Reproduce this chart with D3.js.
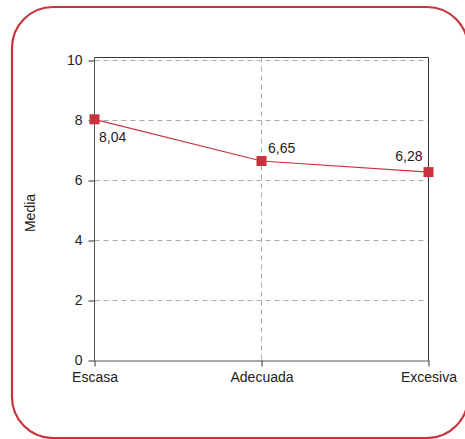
<!DOCTYPE html>
<html><head><meta charset="utf-8">
<script src="https://cdn.jsdelivr.net/npm/d3@7"></script>
<style>body{margin:0;background:#fff}svg{display:block}text{font-family:"Liberation Sans",Arial,sans-serif}</style>
</head><body>
<svg id="c" width="465" height="439"></svg>
<script>
const categories = ["Escasa", "Adecuada", "Excesiva"];
const values = [8.04, 6.65, 6.28];
const valueLabels = ["8,04", "6,65", "6,28"];
const yTicks = [0, 2, 4, 6, 8, 10];
const yTitle = "Media";

const svg = d3.select("#c");
const red = "#c8333d";
const L = 94.5, R = 428.5, T = 60.5, B = 360.5;
const FS = 14;

svg.append("rect").attr("x", 12).attr("y", 7).attr("width", 456).attr("height", 431)
  .attr("rx", 41).attr("ry", 41).attr("fill", "none").attr("stroke", red).attr("stroke-width", 2.2);

const x = d3.scalePoint().domain(categories).range([L, R]);
const y = d3.scaleLinear().domain([0, 10]).range([B, T]);

// gridlines
svg.append("g").selectAll("line").data(yTicks.filter(d => d > 0)).join("line")
  .attr("x1", L).attr("x2", R).attr("y1", d => y(d)).attr("y2", d => y(d))
  .attr("stroke", "#aaa").attr("stroke-dasharray", "5,4");
svg.append("line").attr("x1", x("Adecuada")).attr("x2", x("Adecuada")).attr("y1", T - 3).attr("y2", B)
  .attr("stroke", "#aaa").attr("stroke-dasharray", "5,4");

// frame top/right
svg.append("path").attr("d", `M${L},${T - 3}H${R}V${B}`).attr("fill", "none").attr("stroke", "#333");

const yAxis = svg.append("g").attr("transform", `translate(${L},0)`)
  .call(d3.axisLeft(y).tickValues(yTicks).tickSize(6).tickPadding(6).tickSizeOuter(0));
yAxis.select(".domain").attr("d", `M0,${T - 3}V${B}`).attr("stroke", "#555");
yAxis.selectAll("line").attr("stroke", "#333");
yAxis.selectAll("text").attr("font-size", FS).attr("fill", "#222").attr("font-family", '"Liberation Sans",Arial,sans-serif');

const xAxis = svg.append("g").attr("transform", `translate(0,${B})`)
  .call(d3.axisBottom(x).tickSize(6).tickPadding(6).tickSizeOuter(0));
xAxis.select(".domain").attr("stroke", "#555");
xAxis.selectAll("line").attr("stroke", "#333");
xAxis.selectAll("text").attr("font-size", FS).attr("fill", "#222").attr("font-family", '"Liberation Sans",Arial,sans-serif');

svg.append("text").attr("transform", `translate(35,213) rotate(-90)`)
  .attr("text-anchor", "middle").attr("font-size", FS).attr("fill", "#222").text(yTitle);

const pts = categories.map((c, i) => ({c, v: values[i], l: valueLabels[i], i}));
svg.append("path").datum(pts).attr("fill", "none").attr("stroke", red).attr("stroke-width", 1.2)
  .attr("d", d3.line().x(d => x(d.c)).y(d => y(d.v)));
svg.append("g").selectAll("rect").data(pts).join("rect")
  .attr("x", d => x(d.c) - 5).attr("y", d => y(d.v) - 5).attr("width", 10).attr("height", 10).attr("fill", red);

const lblOff = [{dx: 4.5, dy: 23, a: "start"}, {dx: 6.5, dy: -8.5, a: "start"}, {dx: -6, dy: -11, a: "end"}];
svg.append("g").selectAll("text").data(pts).join("text")
  .attr("x", d => x(d.c) + lblOff[d.i].dx).attr("y", d => y(d.v) + lblOff[d.i].dy)
  .attr("text-anchor", d => lblOff[d.i].a).attr("font-size", FS).attr("fill", "#222").text(d => d.l);
</script>
</body></html>
